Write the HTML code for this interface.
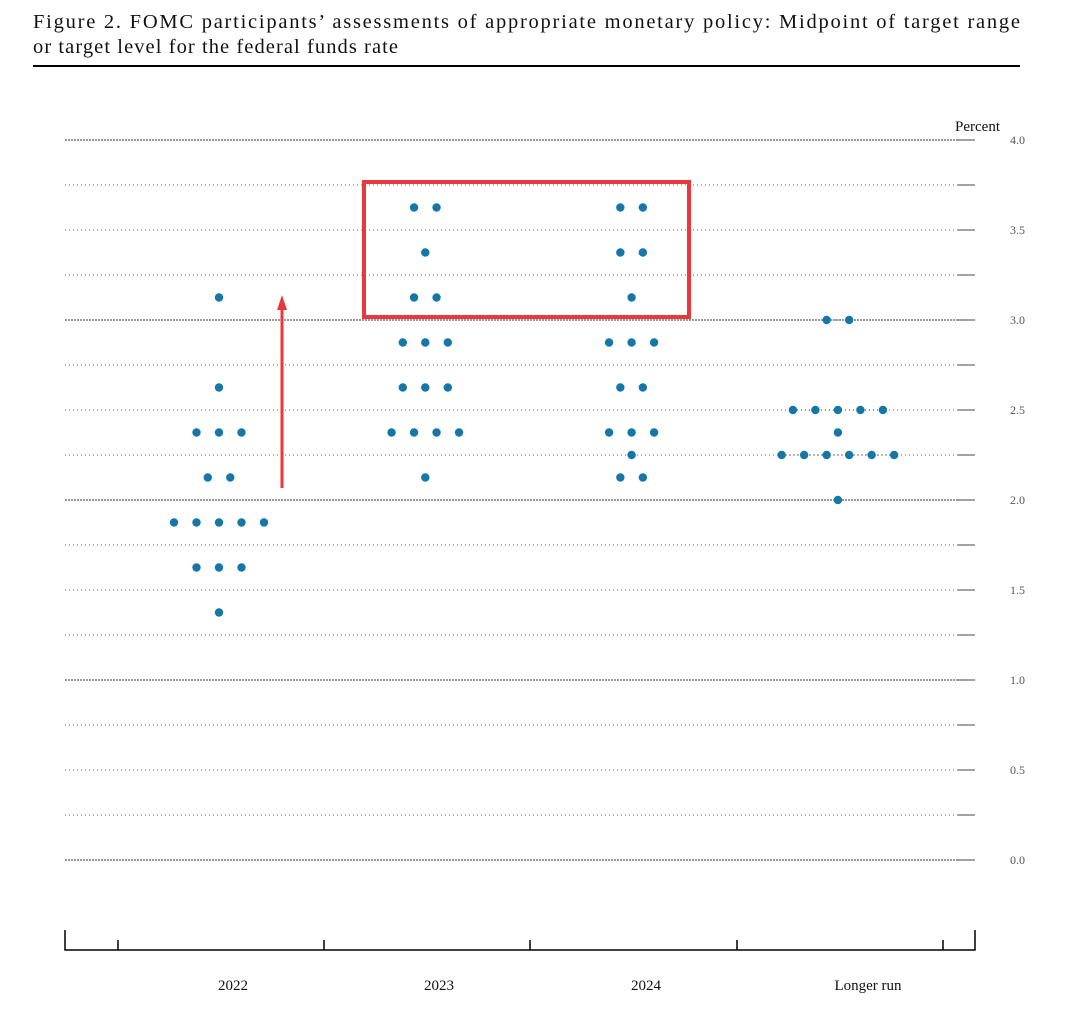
<!DOCTYPE html>
<html><head><meta charset="utf-8"><style>
body{margin:0;background:#fff;width:1080px;height:1024px;overflow:hidden}
svg{position:absolute;left:0;top:0}
</style></head><body>
<svg width="1080" height="1024" xmlns="http://www.w3.org/2000/svg">
<text x="33" y="28" textLength="987" lengthAdjust="spacing" font-family="Liberation Serif, serif" font-size="20.5" fill="#111">Figure 2.  FOMC participants’ assessments of appropriate monetary policy:  Midpoint of target range</text>
<text x="33" y="53" textLength="365" lengthAdjust="spacing" font-family="Liberation Serif, serif" font-size="20.5" fill="#111">or target level for the federal funds rate</text>
<line x1="33" y1="66" x2="1020" y2="66" stroke="#000" stroke-width="2"/>
<text x="1000" y="131" text-anchor="end" font-family="Liberation Serif, serif" font-size="15" fill="#111">Percent</text>
<g id="grid"></g><g id="marks"></g><g id="xaxis"></g>
<rect x="364" y="182" width="325" height="135" fill="none" stroke="#e8383d" stroke-width="4"/>
<line x1="282" y1="488" x2="282" y2="308" stroke="#e8383d" stroke-width="3"/>
<polygon points="282,295 277,310 287,310" fill="#e8383d"/>
</svg>
<script>
const groups=["2022","2023","2024","Longer run"];
const rates2022=[3.125,2.625,2.375,2.125,1.875,1.625,1.375];
const counts2022=[1,1,3,2,5,3,1];
const rates2023=[3.625,3.375,3.125,2.875,2.625,2.375,2.125];
const counts2023=[2,1,2,3,3,4,1];
const rates2024=[3.625,3.375,3.125,2.875,2.625,2.375,2.25,2.125];
const counts2024=[2,2,1,3,2,3,1,2];
const ratesLR=[3.0,2.5,2.375,2.25,2.0];
const countsLR=[2,5,1,6,1];
const yTicks=[4.0,3.5,3.0,2.5,2.0,1.5,1.0,0.5,0.0];
const NS="http://www.w3.org/2000/svg";
const y=v=>860-v*180;
const xc=i=>219+i*206.3;
function mk(t,a,p){const e=document.createElementNS(NS,t);for(const k in a)e.setAttribute(k,a[k]);p.appendChild(e);return e;}
const grid=document.getElementById('grid');
for(let k=0;k<=16;k++){const v=k*0.25;const integer=k%4===0;
 const l=mk('line',{x1:65,x2:958,y1:y(v),y2:y(v),stroke:integer?'#333':'#666','stroke-width':1,'stroke-dasharray':integer?'2,1':'1,3'},grid);
 
 
 const t=mk('line',{x1:958,x2:975,y1:y(v),y2:y(v),stroke:'#444','stroke-width':1},grid);
 
 }
yTicks.forEach(v=>{const t=mk('text',{x:1010,y:y(v)+4,'font-family':'Liberation Serif, serif','font-size':12,fill:'#555'},grid);t.textContent=v.toFixed(1);
 
 });
const marks=document.getElementById('marks');
const sets=[[rates2022,counts2022],[rates2023,counts2023],[rates2024,counts2024],[ratesLR,countsLR]];
sets.forEach(([r,c],gi)=>{r.forEach((v,j)=>{const n=c[j];const cx=xc(gi);
 if(gi===3&&n>1){const ln=mk('line',{x1:cx-(n-1)*11.25,x2:cx+(n-1)*11.25,y1:y(v),y2:y(v),stroke:'#333','stroke-dasharray':'1,3'},marks);
  
  }
 for(let d=0;d<n;d++){const e=mk('circle',{cx:cx+(d-(n-1)/2)*22.5,cy:y(v),r:4.2,fill:'#1577a8'},marks);
  
  }});});
const xa=document.getElementById('xaxis');
const ax=mk('path',{d:'M65,930 V950 H975 V930',fill:'none',stroke:'#000','stroke-width':1.5},xa);


[118,324,530,737,943].forEach(x=>{const t=mk('line',{x1:x,x2:x,y1:950,y2:940,stroke:'#000','stroke-width':1.5},xa);
 
 });
const lx=[233,439,646,868];
groups.forEach((g,i)=>{const t=mk('text',{x:lx[i],y:990,'text-anchor':'middle','font-family':'Liberation Serif, serif','font-size':15,fill:'#111'},xa);t.textContent=g;
 
 });
</script>
</body></html>
